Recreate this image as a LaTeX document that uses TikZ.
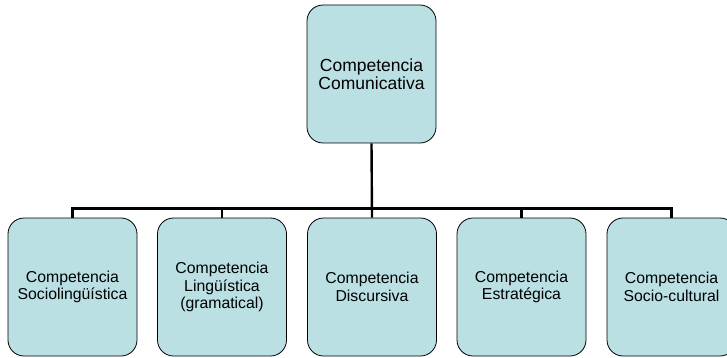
\documentclass[tikz,border=0pt]{standalone}
\usepackage{fontspec}
\setmainfont{Liberation Sans}
\definecolor{boxfill}{RGB}{186,224,228}
\tikzset{
  compbox/.style={draw=black,line width=0.8pt,fill=boxfill,rounded corners=16pt,
    minimum width=129pt,minimum height=138pt,align=center,inner sep=0pt,
    font=\fontsize{15.8}{17.5}\selectfont},
  conn/.style={line width=2.4pt}
}
\begin{document}
\begin{tikzpicture}[x=1pt,y=-1pt]
\useasboundingbox (0,0) rectangle (727,358);
% boxes
\node[compbox,font=\fontsize{17.5}{17.5}\selectfont] (top) at (371.5,74) {Competencia\\Comunicativa};
\node[compbox] (socio) at (72.5,287) {Competencia\\Sociolingüística};
\node[compbox] (ling) at (222,287) {Competencia\\Lingüística\\(gramatical)};
\node[compbox] (disc) at (372,287) {Competencia\\Discursiva};
\node[compbox] (estr) at (521.5,287) {Competencia\\Estratégica};
\node[compbox] (cult) at (671.5,287) {Competencia\\Socio-cultural};

% connectors
\draw[conn] (top.south) -- (disc.north);
\draw[conn] (socio.north) -- ++(0,-9) -| (cult.north);
\draw[conn] (ling.north) -- ++(0,-9);
\draw[conn] (estr.north) -- ++(0,-9);
\end{tikzpicture}
\end{document}
